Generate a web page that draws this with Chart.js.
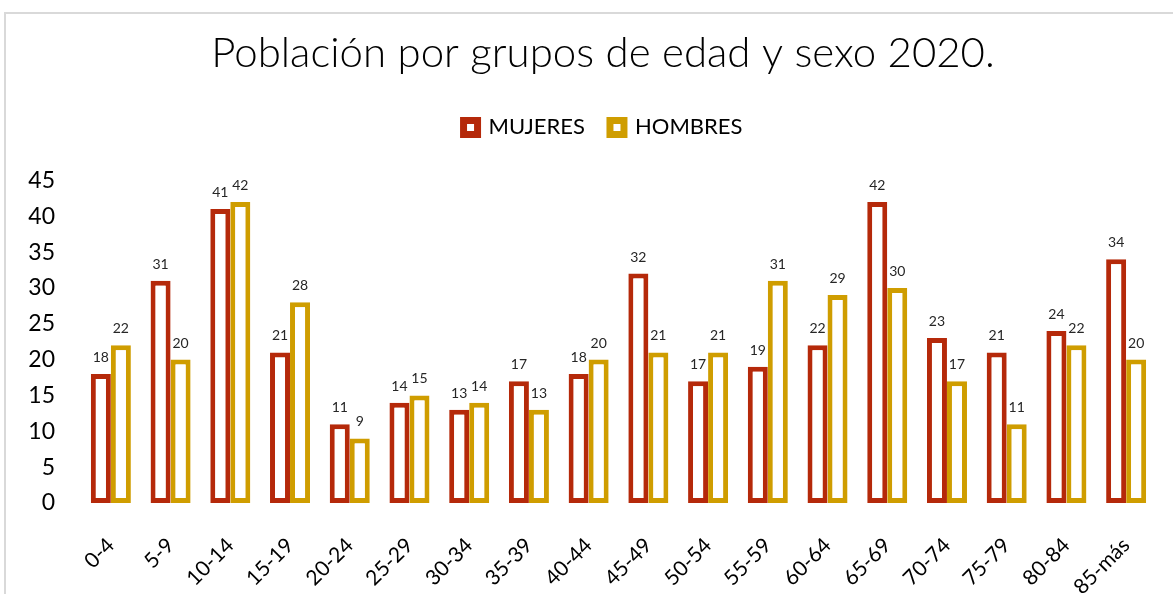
<!DOCTYPE html>
<html>
<head>
<meta charset="utf-8">
<script src="https://cdn.jsdelivr.net/npm/chart.js@4.4.1/dist/chart.umd.min.js"></script>
<style>
	html, body { margin: 0; padding: 0; background: #fff; overflow: hidden; }
	#frame { position: absolute; left: 4px; top: 12px; width: 1300px; height: 700px; border: 2px solid #d9d9d9; pointer-events: none; }
	#wrap { position: absolute; left: 0; top: 0; width: 1173px; height: 594px; }
</style>
</head>
<body>
<div id="frame"></div>
<div id="wrap"><canvas id="pop_chart" width="1173" height="594"></canvas></div>
<script>
var age_groups = ['0-4', '5-9', '10-14', '15-19', '20-24', '25-29', '30-34', '35-39', '40-44', '45-49', '50-54', '55-59', '60-64', '65-69', '70-74', '75-79', '80-84', '85-más'];
var mujeres = [18, 31, 41, 21, 11, 14, 13, 17, 18, 32, 17, 19, 22, 42, 23, 21, 24, 34];
var hombres = [22, 20, 42, 28, 9, 15, 14, 13, 20, 21, 21, 31, 29, 30, 17, 11, 22, 20];
var y_max = 45;
var y_step = 5;

var red = '#b5290a';
var gold = '#cf9d00';
var fontFamily = "Lato, 'Noto Sans', sans-serif";

// value labels above each bar
var barValues = {
	id: 'barValues',
	afterDatasetsDraw: function (chart) {
		var ctx = chart.ctx;
		ctx.save();
		ctx.font = "14px " + fontFamily;
		ctx.fillStyle = '#262626';
		ctx.textAlign = 'center';
		ctx.textBaseline = 'alphabetic';
		chart.data.datasets.forEach(function (ds, i) {
			var meta = chart.getDatasetMeta(i);
			meta.data.forEach(function (bar, j) {
				ctx.fillText(ds.data[j], bar.x, bar.y - 12);
			});
		});
		ctx.restore();
	}
};

// extra room under the legend, and title/legend a bit right of centre
var headerTweak = {
	id: 'headerTweak',
	beforeInit: function (chart) {
		var origFit = chart.legend.fit;
		chart.legend.fit = function () {
			origFit.bind(chart.legend)();
			this.height += 32;
		};
	},
	afterLayout: function (chart) {
		chart.titleBlock.left += 15;
		chart.titleBlock.right += 15;
		chart.legend.left += 15;
		chart.legend.right += 15;
	}
};

var ctx = document.getElementById('pop_chart').getContext('2d');
window.popChart = new Chart(ctx, {
	type: 'bar',
	data: {
		labels: age_groups,
		datasets: [{
			label: 'MUJERES',
			data: mujeres,
			backgroundColor: '#ffffff',
			borderColor: red,
			borderWidth: 5,
			borderSkipped: false,
			categoryPercentage: 0.67,
			barPercentage: 1.0
		}, {
			label: 'HOMBRES',
			data: hombres,
			backgroundColor: '#ffffff',
			borderColor: gold,
			borderWidth: 5,
			borderSkipped: false,
			categoryPercentage: 0.67,
			barPercentage: 1.0
		}]
	},
	options: {
		responsive: false,
		animation: false,
		layout: {
			padding: { top: 22, left: 20, right: 17, bottom: 0 }
		},
		scales: {
			x: {
				grid: { display: false, drawTicks: false },
				border: { display: false },
				ticks: {
					color: '#000',
					font: { family: fontFamily, size: 21 },
					maxRotation: 45,
					minRotation: 45,
					autoSkip: false,
					padding: 30
				},
				afterFit: function (scale) {
					scale.paddingLeft = 0;
					scale.paddingRight = 0;
					scale.height = 91;
				}
			},
			y: {
				min: 0,
				max: y_max,
				grid: { display: false, drawTicks: false },
				border: { display: false },
				ticks: {
					stepSize: y_step,
					color: '#000',
					font: { family: fontFamily, size: 23 },
					padding: 26
				},
				afterFit: function (scale) {
					scale.width = 61;
				}
			}
		},
		plugins: {
			title: {
				display: true,
				text: 'Población por grupos de edad y sexo 2020.',
				color: '#000',
				font: { family: fontFamily, size: 42, weight: '300' },
				padding: { top: 6, bottom: 13 }
			},
			legend: {
				display: true,
				labels: {
					color: '#000',
					font: { family: fontFamily, size: 22 },
					boxWidth: 14,
					boxHeight: 14,
					padding: 25,
					generateLabels: function (chart) {
						var items = Chart.defaults.plugins.legend.labels.generateLabels(chart);
						items.forEach(function (item) {
							item.lineWidth = 7;
						});
						return items;
					}
				}
			},
			tooltip: { enabled: false }
		}
	},
	plugins: [barValues, headerTweak]
});
</script>
</body>
</html>
